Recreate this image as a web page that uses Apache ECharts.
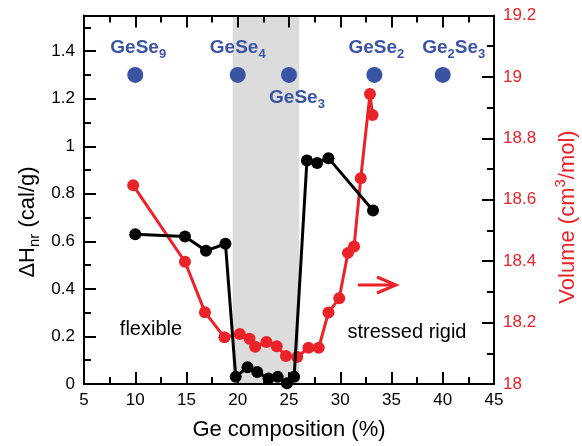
<!DOCTYPE html>
<html>
<head>
<meta charset="utf-8">
<script src="https://cdn.jsdelivr.net/npm/echarts@6/dist/echarts.min.js"></script>
<style>
  html, body { margin: 0; padding: 0; background: #fff; }
  #chart { width: 582px; height: 446px; }
</style>
</head>
<body>
<div id="chart"></div>
<script>
// Non-reversing enthalpy ΔH_nr (cal/g) against Ge composition (%)
const enthalpyX = [10, 14.85, 16.9, 18.8, 19.8, 20.95, 21.9, 23.0, 23.9, 24.8, 25.5, 26.75, 27.75, 28.85, 33.2];
const enthalpyY = [0.63, 0.62, 0.56, 0.59, 0.03, 0.07, 0.05, 0.023, 0.03, 0.003, 0.03, 0.94, 0.93, 0.95, 0.73];

// Molar volume (cm3/mol) against Ge composition (%)
const volumeX = [9.8, 14.85, 16.8, 18.7, 20.2, 21.15, 21.7, 22.8, 23.8, 24.7, 25.8, 26.9, 27.9, 28.85, 29.9, 30.75, 31.35, 32.0, 32.9, 33.15];
const volumeY = [18.647, 18.398, 18.234, 18.152, 18.163, 18.147, 18.121, 18.137, 18.123, 18.091, 18.088, 18.118, 18.118, 18.233, 18.279, 18.427, 18.448, 18.67, 18.944, 18.876];

// Stoichiometric compounds, marked along the top of the plot
const compoundX = [10, 20, 25, 33.33, 40];
const compoundLevel = 1.3;
const compoundNames = ['{m|GeSe}{s|9}', '{m|GeSe}{s|4}', '{m|GeSe}{s|3}', '{m|GeSe}{s|2}', '{m|Ge}{s|2}{m|Se}{s|3}'];

// Intermediate phase window (Ge %)
const ipWindow = [19.5, 26];

// Axis ranges and tick steps
const xRange = [5, 45], xStep = 5;
const enthalpyRange = [0, 1.55], enthalpyStep = 0.2;
const volumeRange = [18, 19.2], volumeStep = 0.2;

const FONT = '"Liberation Sans", Arial, Helvetica, sans-serif';
const RED = '#ec2229';
const BLUE = '#3a54a4';
const BLACK = '#000';

const chart = echarts.init(document.getElementById('chart'), null, { renderer: 'canvas' });

// Axes sit above the shaded window but below the data
const tickBase = {
  z: 2,
  axisLine: { show: true, onZero: false, lineStyle: { color: BLACK, width: 2 } },
  axisTick: { show: true, inside: true, length: 12, lineStyle: { color: BLACK, width: 2 } },
  minorTick: { show: true, splitNumber: 2, length: 7, lineStyle: { color: BLACK, width: 2 } },
  splitLine: { show: false },
  minorSplitLine: { show: false }
};

// Per-compound label placement (side of the dot and nudge)
const labelPlacement = [
  { position: 'top', offset: [3, 0] },
  { position: 'top', offset: [0, 0] },
  { position: 'bottom', offset: [8, -5] },
  { position: 'top', offset: [2, 0] },
  { position: 'top', offset: [11, 0] }
];

const option = {
  animation: false,
  backgroundColor: '#fff',
  textStyle: { fontFamily: FONT },
  grid: { left: 84, right: 88, top: 15.5, bottom: 57.7, containLabel: false },
  xAxis: [
    Object.assign({}, tickBase, {
      type: 'value', position: 'bottom',
      min: xRange[0], max: xRange[1], interval: xStep,
      axisLabel: { color: BLACK, fontSize: 17, fontFamily: FONT, margin: 8 },
      name: 'Ge composition (%)', nameLocation: 'middle', nameGap: 35,
      nameTextStyle: { color: BLACK, fontSize: 22, fontFamily: FONT }
    }),
    Object.assign({}, tickBase, {
      type: 'value', position: 'top',
      min: xRange[0], max: xRange[1], interval: xStep,
      axisLabel: { show: false }
    })
  ],
  yAxis: [
    Object.assign({}, tickBase, {
      type: 'value', position: 'left',
      min: enthalpyRange[0], max: enthalpyRange[1], interval: enthalpyStep,
      minorTick: { show: false },
      axisLabel: {
        color: BLACK, fontSize: 17, fontFamily: FONT, margin: 9,
        formatter: v => (Math.abs(v / enthalpyStep - Math.round(v / enthalpyStep)) < 1e-6 ? String(+v.toFixed(1)) : '')
      }
    }),
    Object.assign({}, tickBase, {
      type: 'value', position: 'right',
      min: volumeRange[0], max: volumeRange[1], interval: volumeStep,
      axisLabel: {
        color: RED, fontSize: 17, fontFamily: FONT, margin: 9,
        formatter: v => String(+v.toFixed(1))
      }
    }),
    // half-step ticks for the enthalpy axis
    {
      type: 'value', position: 'left', z: 2,
      min: enthalpyRange[0], max: enthalpyRange[1], interval: enthalpyStep / 2,
      axisLine: { show: false, onZero: false },
      axisTick: { show: true, inside: true, length: 7, lineStyle: { color: BLACK, width: 2 } },
      axisLabel: { show: false },
      splitLine: { show: false }
    }
  ],
  series: [
    {
      name: 'IP window', type: 'line', data: [], z: 0, silent: true,
      markArea: {
        silent: true,
        z: 0,
        itemStyle: { color: '#dcdcdc' },
        data: [[{ xAxis: ipWindow[0] }, { xAxis: ipWindow[1] }]]
      }
    },
    {
      name: 'Volume', type: 'line', yAxisIndex: 1, z: 3,
      data: volumeX.map((x, i) => [x, volumeY[i]]),
      symbol: 'circle', symbolSize: 12, showSymbol: true,
      lineStyle: { color: RED, width: 3 },
      itemStyle: { color: RED, opacity: 1 }
    },
    {
      name: 'ΔH_nr', type: 'line', yAxisIndex: 0, z: 4,
      data: enthalpyX.map((x, i) => [x, enthalpyY[i]]),
      symbol: 'circle', symbolSize: 12, showSymbol: true,
      lineStyle: { color: BLACK, width: 3 },
      itemStyle: { color: BLACK, opacity: 1 }
    },
    {
      name: 'Compounds', type: 'scatter', yAxisIndex: 0, z: 5,
      symbolSize: 16,
      itemStyle: { color: BLUE, opacity: 1 },
      data: compoundX.map((x, i) => ({
        value: [x, compoundLevel],
        label: {
          show: true,
          opacity: 1,
          position: labelPlacement[i].position,
          offset: labelPlacement[i].offset,
          distance: 6,
          formatter: compoundNames[i],
          rich: {
            m: { fontSize: 19, fontWeight: 'bold', color: BLUE, fontFamily: FONT },
            s: { fontSize: 13, fontWeight: 'bold', color: BLUE, fontFamily: FONT, padding: [14, 0, 0, 0] }
          }
        }
      }))
    }
  ],
  graphic: [
    {
      type: 'text', x: 28, y: 222, rotation: Math.PI / 2,
      style: {
        text: '{t|ΔH}{s|nr}{t| (cal/g)}',
        align: 'center', verticalAlign: 'middle',
        rich: {
          t: { fontSize: 22, fontFamily: FONT, fill: BLACK },
          s: { fontSize: 15, fontFamily: FONT, fill: BLACK, padding: [14, 0, 0, 0] }
        }
      }
    },
    {
      type: 'text', x: 568, y: 217, rotation: Math.PI / 2,
      style: {
        text: '{t|Volume (cm}{p|3}{t|/mol)}',
        align: 'center', verticalAlign: 'middle',
        rich: {
          t: { fontSize: 22, fontFamily: FONT, fill: RED },
          p: { fontSize: 15, fontFamily: FONT, fill: RED, padding: [0, 0, 14, 0] }
        }
      }
    },
    {
      type: 'text', x: 263, y: 182,
      style: { text: 'IP', font: 'bold 20px ' + FONT, fill: BLACK, align: 'center', verticalAlign: 'middle' }
    },
    {
      type: 'text', x: 151, y: 329,
      style: { text: 'flexible', font: '20px ' + FONT, fill: BLACK, align: 'center', verticalAlign: 'middle' }
    },
    {
      type: 'text', x: 407, y: 332,
      style: { text: 'stressed rigid', font: '20px ' + FONT, fill: BLACK, align: 'center', verticalAlign: 'middle' }
    },
    {
      type: 'polyline',
      shape: { points: [[358, 285], [395, 285]] },
      style: { stroke: RED, lineWidth: 3, fill: null }
    },
    {
      type: 'polyline',
      shape: { points: [[377, 277], [396, 285], [377, 293]] },
      style: { stroke: RED, lineWidth: 3, fill: null }
    }
  ]
};

chart.setOption(option);
</script>
</body>
</html>
